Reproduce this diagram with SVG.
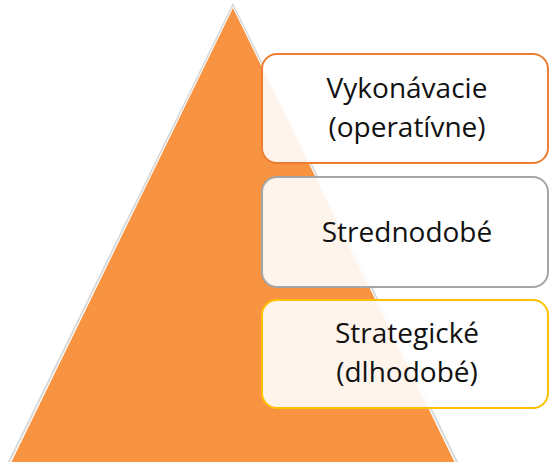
<svg xmlns="http://www.w3.org/2000/svg" width="550" height="462" viewBox="0 0 550 462">
  <style>
    .box { fill: #ffffff; fill-opacity: 0.9; stroke-width: 2; }
    .lbl { font-family: "Open Sans", "Liberation Sans", sans-serif; font-size: 28px; fill: #111111; text-anchor: middle; }
  </style>
  <rect width="550" height="462" fill="#ffffff"/>

  <!-- pyramid -->
  <g id="pyramid">
    <polygon points="233,5 8,464 458,464" fill="none" stroke="#d9d9d9" stroke-width="2"/>
    <polygon points="233,7 10,464 456,464" fill="#F79341" stroke="#ffffff" stroke-width="1"/>
  </g>

  <g id="level-top">
    <rect class="box" x="262" y="54" width="286" height="109" rx="15" stroke="#ED7D31"/>
    <text class="lbl" x="407" y="98">Vykonávacie</text>
    <text class="lbl" x="407" y="137">(operatívne)</text>
  </g>

  <g id="level-middle">
    <rect class="box" x="262" y="177" width="286" height="110" rx="15" stroke="#A5A5A5"/>
    <text class="lbl" x="407" y="242">Strednodobé</text>
  </g>

  <g id="level-bottom">
    <rect class="box" x="262" y="300" width="286" height="108" rx="15" stroke="#FFC000"/>
    <text class="lbl" x="407" y="343">Strategické</text>
    <text class="lbl" x="407" y="382">(dlhodobé)</text>
  </g>

  <g id="connectors"/>
</svg>
